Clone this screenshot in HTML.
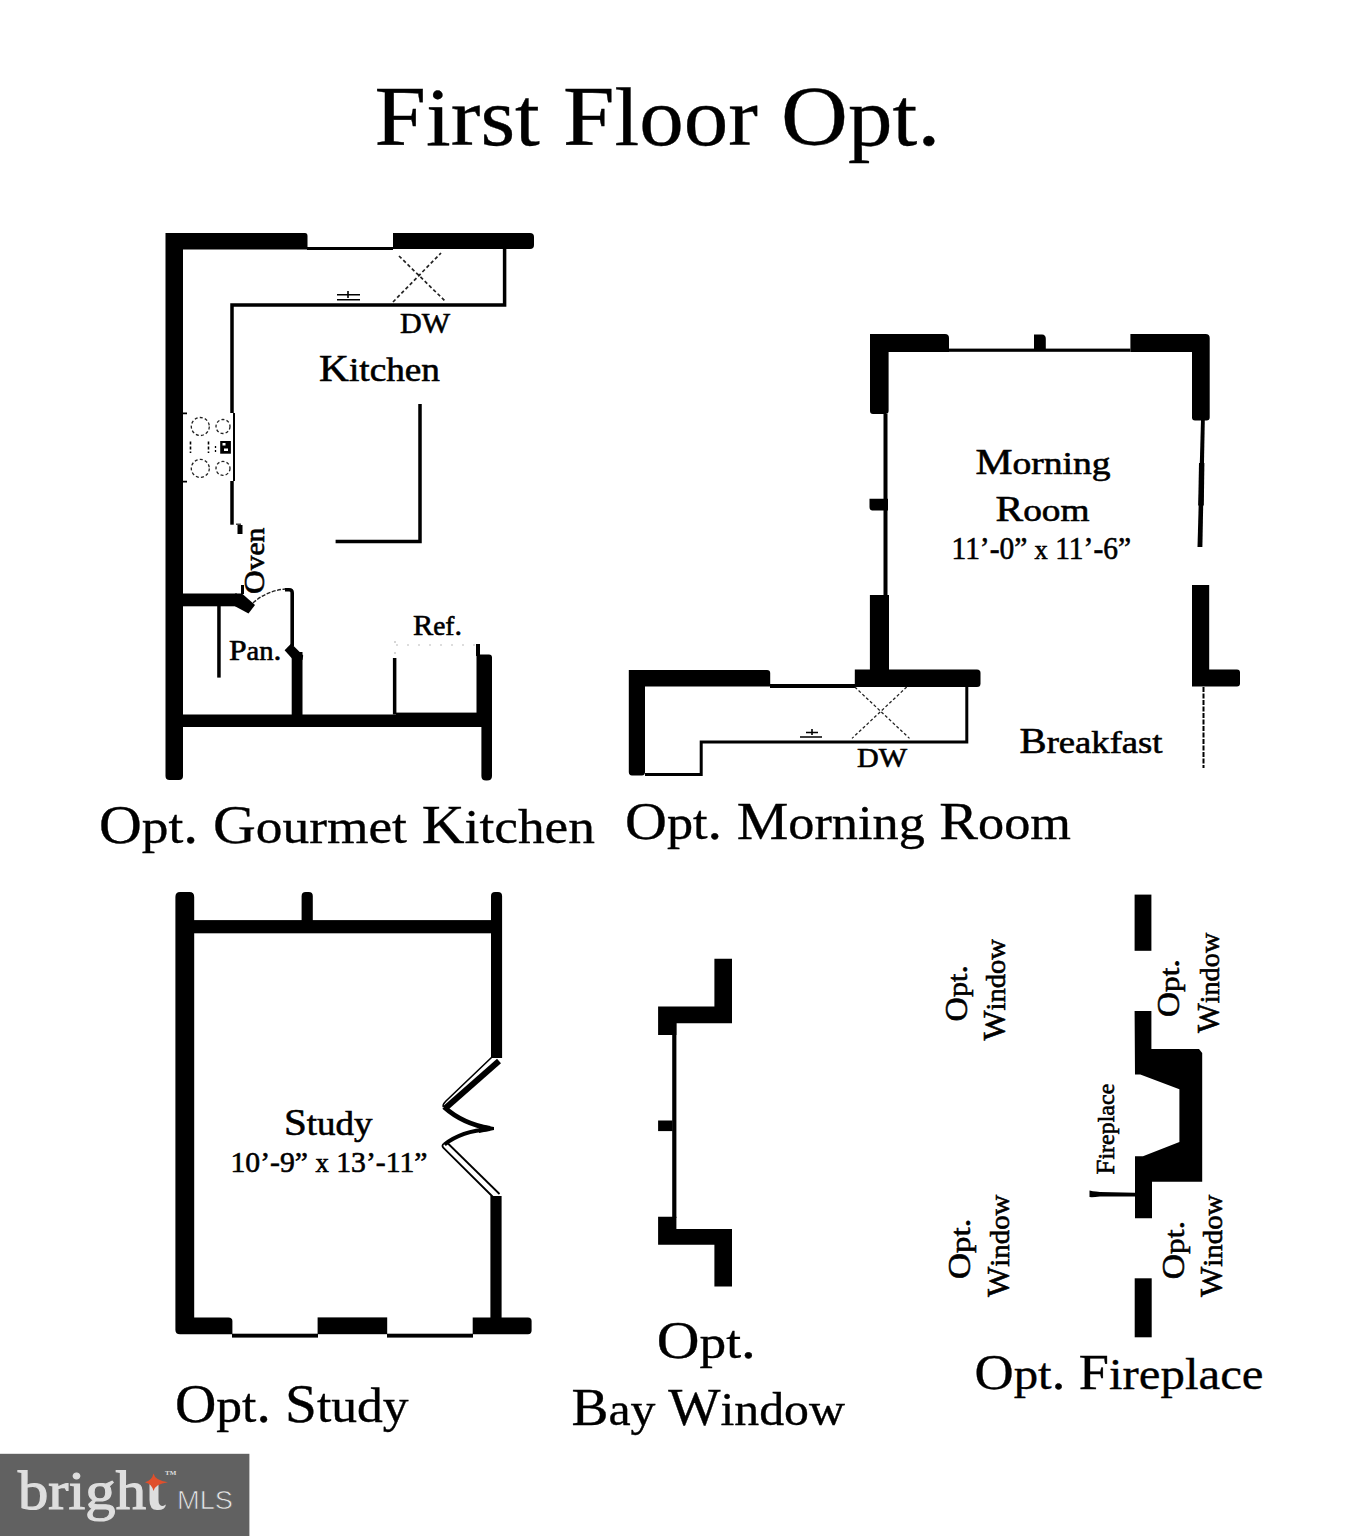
<!DOCTYPE html>
<html><head><meta charset="utf-8">
<style>
html,body{margin:0;padding:0;background:#fff;width:1355px;height:1536px;overflow:hidden}
svg{display:block}
text{font-family:"Liberation Serif",serif;fill:#000}
</style></head><body>
<svg width="1355" height="1536" viewBox="0 0 1355 1536">
<rect width="1355" height="1536" fill="#fff"/>

<!-- TITLE -->
<text x="374.5" y="145" font-size="85" textLength="566" lengthAdjust="spacingAndGlyphs" stroke="#000" stroke-width="0.35">F<tspan font-size="81.6">irst</tspan> F<tspan font-size="81.6">loor</tspan> O<tspan font-size="81.6">pt</tspan>.</text>

<!-- ============ KITCHEN ============ -->
<g id="kitchen">
<path d="M165.5,233 H305 Q307.5,233 307.5,236 V249.5 H183 V776 Q183,780 179,780 H169.5 Q165.5,780 165.5,776 Z" fill="#000"/>
<rect x="307" y="247" width="86" height="3" fill="#000"/>
<path d="M393,233 H530 Q534,233 534,237 V245 Q534,249 530,249 H393 Z" fill="#000"/>
<path d="M232,413 V305 H504.6 V249" fill="none" stroke="#000" stroke-width="3.5"/>
<path d="M232,481 V524.7" fill="none" stroke="#000" stroke-width="3.5"/>
<path d="M234,413 V481" fill="none" stroke="#000" stroke-width="2"/>
<g fill="none" stroke="#222" stroke-width="1.3" stroke-dasharray="3 2.2">
<circle cx="200.3" cy="426.5" r="9"/>
<circle cx="200.3" cy="468.4" r="9"/>
<circle cx="223" cy="426.5" r="7"/>
<circle cx="223" cy="468.4" r="7"/>
<path d="M183,413.3 H187 M183,481.6 H187" stroke="#000" stroke-dasharray="none" stroke-width="1.8"/>
<path d="M393,302 L441,253 M399,256 L445,301" stroke-width="1.7" stroke-dasharray="3.5 2.5"/>
</g>
<rect x="220.2" y="441" width="10.7" height="12.7" fill="#000"/><rect x="222.5" y="443" width="3" height="2.5" fill="#fff"/><rect x="224" y="448.5" width="4" height="2.5" fill="#fff"/>
<path d="M208.5,441.5 V453 M190.5,441.5 V453" stroke="#000" stroke-width="1.6" stroke-dasharray="3 2"/><path d="M215.5,446 V453" stroke="#000" stroke-width="1.3" stroke-dasharray="2 2"/>
<path d="M337,294.7 H360 M337,299.7 H360 M348,291 V298" stroke="#000" stroke-width="1.6"/>
<path d="M420,404 V541.5 H335.6" fill="none" stroke="#000" stroke-width="3.5"/>
<rect x="237.5" y="525" width="5" height="9" fill="#000"/><rect x="236" y="523.5" width="5" height="1.5" fill="#444"/>
<!-- pantry -->
<rect x="183" y="593.5" width="54" height="12.8" fill="#000"/>
<path d="M235,593.5 L242,593.5 L255,605 L248.5,613.5 L235,606.3 Z" fill="#000"/><rect x="241" y="585" width="3" height="9" fill="#000"/>
<rect x="217.2" y="606" width="3.5" height="71.6" fill="#000"/>
<path d="M253,603 Q266,591 285,589" fill="none" stroke="#222" stroke-width="1.4" stroke-dasharray="4 1.5"/>
<path d="M285,588 H289 Q294,588 294,593 V646 H290.4 V592.5 Q290.4,591.5 289,591.5 H285 Z" fill="#000"/>
<path d="M284.6,650.2 L291.2,643.5 L303.2,655.5 L302.5,660 L292,658.6 Z" fill="#000"/>
<rect x="291.7" y="652" width="10.8" height="66" fill="#000"/>
<rect x="183" y="714.5" width="308" height="12.5" fill="#000"/>
<path d="M476.5,654.4 H489 Q492,654.4 492,657.5 V776 Q492,780.5 487,780.5 H486 Q481.4,780.5 481.4,776 V727 H476.5 Z" fill="#000"/>
<rect x="476" y="644" width="4" height="12" fill="#000"/>
<rect x="392.9" y="658" width="3.5" height="56.5" fill="#000"/>
<path d="M396,645 H476 M395,641 V658" fill="none" stroke="#bbb" stroke-width="1.2" stroke-dasharray="2 9"/>
<rect x="396" y="712.6" width="81" height="3" fill="#000"/>
<text x="400" y="333" font-size="30" textLength="50" lengthAdjust="spacingAndGlyphs" stroke="#000" stroke-width="0.6">DW</text>
<text x="319" y="380.7" font-size="38" textLength="121" lengthAdjust="spacingAndGlyphs" stroke="#000" stroke-width="0.6">K<tspan font-size="34.2">itchen</tspan></text>
<text transform="translate(264,594) rotate(-90)" font-size="30" textLength="66.4" lengthAdjust="spacingAndGlyphs" stroke="#000" stroke-width="0.6">O<tspan font-size="27.0">ven</tspan></text>
<text x="229" y="659.8" font-size="30" textLength="52.5" lengthAdjust="spacingAndGlyphs" stroke="#000" stroke-width="0.6">P<tspan font-size="27.0">an</tspan>.</text>
<text x="413" y="635" font-size="30" textLength="49" lengthAdjust="spacingAndGlyphs" stroke="#000" stroke-width="0.6">R<tspan font-size="27.0">ef</tspan>.</text>
<text x="99" y="842.8" font-size="55" textLength="496" lengthAdjust="spacingAndGlyphs" stroke="#000" stroke-width="0.35">O<tspan font-size="49.5">pt</tspan>. G<tspan font-size="49.5">ourmet</tspan> K<tspan font-size="49.5">itchen</tspan></text>
</g>

<g id="morning">
<path d="M870,334 H945 Q949,334 949,338 V352 H888.6 V411 Q888.6,414 885.4,414 H873 Q870,414 870,411 Z" fill="#000"/>
<rect x="949" y="348.6" width="181.4" height="3.2" fill="#000"/>
<path d="M1034,334.5 H1042 Q1045.8,334.5 1045.8,339 V349 H1034 Z" fill="#000"/>
<path d="M1130.4,334 H1205.6 Q1209.7,334 1209.7,338 V417.4 Q1209.7,420.4 1206.6,420.4 H1195 Q1192,420.4 1192,417.4 V352 H1130.4 Z" fill="#000"/>
<rect x="883.5" y="414" width="4" height="182" fill="#000"/>
<path d="M869.5,498.7 H888 V510.4 H872 Q869.5,510.4 869.5,507 Z" fill="#000"/>
<rect x="869.9" y="595" width="19.1" height="76" fill="#000"/>
<path d="M1201,420 H1204.8 L1202.4,547 H1197.5 Z" fill="#000"/>
<path d="M1199,463 H1204.4 L1203.8,505.5 H1198.2 Z" fill="#000"/>
<path d="M1192,585 H1209.2 V669.4 H1237 Q1240,669.4 1240,672.4 V683.6 Q1240,686.6 1237,686.6 H1192 Z" fill="#000"/>
<path d="M1203.5,687 V768" stroke="#000" stroke-width="2" stroke-dasharray="5 1.5"/>
<path d="M628.8,670 H767 Q770.2,670 770.2,673 V686.5 H645 V772 Q645,775.4 642,775.4 H632 Q628.8,775.4 628.8,772 Z" fill="#000"/>
<rect x="770" y="684" width="85" height="4" fill="#000"/>
<path d="M854.8,669.5 H977 Q980.5,669.5 980.5,673 V683.5 Q980.5,687 977,687 H854.8 Z" fill="#000"/>
<path d="M645,774.6 H701.2 V742 H966.8 V686" fill="none" stroke="#000" stroke-width="3"/>
<g fill="none" stroke="#222" stroke-width="1.3" stroke-dasharray="3 2.2">
<path d="M854.8,687 L909.5,738.4 M906.7,687 L852,738.4"/>
</g>
<path d="M800,737 H822 M806,732.5 H818 M812,729 V735" stroke="#000" stroke-width="1.6"/>
<text x="975.5" y="474" font-size="36" textLength="135" lengthAdjust="spacingAndGlyphs" stroke="#000" stroke-width="0.6">M<tspan font-size="32.4">orning</tspan></text>
<text x="995.5" y="520.7" font-size="36" textLength="94" lengthAdjust="spacingAndGlyphs" stroke="#000" stroke-width="0.6">R<tspan font-size="32.4">oom</tspan></text>
<text x="951.5" y="558.7" font-size="31" textLength="179.5" lengthAdjust="spacingAndGlyphs" stroke="#000" stroke-width="0.6">11’-0” <tspan font-size="27.9">x</tspan> 11’-6”</text>
<text x="857" y="767" font-size="27" textLength="50" lengthAdjust="spacingAndGlyphs" stroke="#000" stroke-width="0.6">DW</text>
<text x="1019.5" y="752.9" font-size="36" textLength="143" lengthAdjust="spacingAndGlyphs" stroke="#000" stroke-width="0.6">B<tspan font-size="32.4">reakfast</tspan></text>
<text x="625" y="838.9" font-size="53" textLength="446" lengthAdjust="spacingAndGlyphs" stroke="#000" stroke-width="0.35">O<tspan font-size="47.7">pt</tspan>. M<tspan font-size="47.7">orning</tspan> R<tspan font-size="47.7">oom</tspan></text>
</g>

<g id="study">
<path d="M175.4,897 Q175.4,892 180,892 H189.6 Q194.2,892 194.2,897 V1317.4 H228.4 Q232.4,1317.4 232.4,1321 V1334.2 H180 Q175.4,1334.2 175.4,1330 Z" fill="#000"/>
<rect x="194" y="920.1" width="298" height="13.2" fill="#000"/>
<path d="M301.6,896 Q301.6,892 305.6,892 H308.8 Q312.8,892 312.8,896 V921 H301.6 Z" fill="#000"/>
<path d="M491,896 Q491,892 495,892 H498 Q502.1,892 502.1,896 V1058 H491 Z" fill="#000"/>
<rect x="317.6" y="1317.4" width="69.6" height="16.8" fill="#000"/>
<path d="M490.4,1196 H501.6 V1317.4 H528 Q531.6,1317.4 531.6,1321 V1330.6 Q531.6,1334.2 528,1334.2 H472.7 V1317.4 H490.4 Z" fill="#000"/>
<rect x="232" y="1333.7" width="86" height="3.9" fill="#000"/>
<rect x="387" y="1333.7" width="86" height="3.9" fill="#000"/>
<!-- bifold doors -->
<path d="M499,1061 L445,1108.5" stroke="#000" stroke-width="6" fill="none"/>
<path d="M491.5,1057.5 L446,1101 Q442,1105 443.5,1107" stroke="#000" stroke-width="1.6" fill="none"/>
<path d="M444,1107 C454,1116 467,1124.5 490,1128.4" stroke="#000" stroke-width="4.8" fill="none"/>
<path d="M479,1124.5 L494,1127 L494,1130 L479,1133 Z" fill="#000"/>
<path d="M490,1129 C470,1130.5 455,1136 444.5,1144.5" stroke="#000" stroke-width="4" fill="none"/>
<path d="M493.5,1197.5 L443.5,1148 Q441,1145 444.5,1143.5" stroke="#000" stroke-width="1.8" fill="none"/>
<path d="M448,1143.5 L499.5,1194" stroke="#000" stroke-width="1.8" fill="none"/>
<text x="284" y="1134.6" font-size="38" textLength="88.5" lengthAdjust="spacingAndGlyphs" stroke="#000" stroke-width="0.6">S<tspan font-size="34.2">tudy</tspan></text>
<text x="230.5" y="1172" font-size="30" textLength="197" lengthAdjust="spacingAndGlyphs" stroke="#000" stroke-width="0.6">10’-9” <tspan font-size="27.0">x</tspan> 13’-11”</text>
<text x="175" y="1421.7" font-size="54" textLength="233.5" lengthAdjust="spacingAndGlyphs" stroke="#000" stroke-width="0.35">O<tspan font-size="48.6">pt</tspan>. S<tspan font-size="48.6">tudy</tspan></text>
</g>
<g id="bay">
<path d="M714.4,958.8 H732 V1023.2 H676.4 V1035 H658.1 V1006.4 H714.4 Z" fill="#000"/>
<rect x="672.2" y="1023" width="4.2" height="195" fill="#000"/>
<rect x="658.1" y="1120.5" width="14.5" height="10.6" fill="#000"/>
<path d="M658.1,1216.7 H676.4 V1228.9 H732 V1286.5 H714.4 V1244.8 H658.1 Z" fill="#000"/>
<text x="656.8" y="1358.3" font-size="52" textLength="99" lengthAdjust="spacingAndGlyphs" stroke="#000" stroke-width="0.35">O<tspan font-size="46.8">pt</tspan>.</text>
<text x="571.5" y="1425.1" font-size="52" textLength="273.5" lengthAdjust="spacingAndGlyphs" stroke="#000" stroke-width="0.35">B<tspan font-size="46.8">ay</tspan> W<tspan font-size="46.8">indow</tspan></text>
</g>
<g id="fireplace">
<rect x="1134.6" y="894.6" width="16.8" height="56.2" fill="#000"/>
<path d="M1134.6,1011 H1151.4 V1049 H1199 L1202.2,1053 V1181.7 H1152 V1218.3 H1135 V1156.3 H1143 L1179.4,1142 V1089.2 L1140.3,1074.5 H1135 Z" fill="#000"/>
<rect x="1134.7" y="1278.3" width="17" height="59" fill="#000"/>
<path d="M1089.5,1190.5 Q1091,1191 1100,1192 L1135,1192.8 V1196.5 L1100,1196.5 Q1092,1197.5 1089.5,1197 Z" fill="#000"/>
<g font-size="31" stroke="#000" stroke-width="0.6">
<text transform="translate(967.3,1021.5) rotate(-90)" textLength="56.5" lengthAdjust="spacingAndGlyphs">O<tspan font-size="27.9">pt</tspan>.</text>
<text transform="translate(1005.3,1040.6) rotate(-90)" textLength="101.6" lengthAdjust="spacingAndGlyphs">W<tspan font-size="27.9">indow</tspan></text>
<text transform="translate(1179.3,1017) rotate(-90)" textLength="58" lengthAdjust="spacingAndGlyphs">O<tspan font-size="27.9">pt</tspan>.</text>
<text transform="translate(1218.6,1033) rotate(-90)" textLength="100.3" lengthAdjust="spacingAndGlyphs">W<tspan font-size="27.9">indow</tspan></text>
<text transform="translate(970.2,1279.3) rotate(-90)" textLength="61" lengthAdjust="spacingAndGlyphs">O<tspan font-size="27.9">pt</tspan>.</text>
<text transform="translate(1009,1296.9) rotate(-90)" textLength="102.3" lengthAdjust="spacingAndGlyphs">W<tspan font-size="27.9">indow</tspan></text>
<text transform="translate(1184,1279.3) rotate(-90)" textLength="58.5" lengthAdjust="spacingAndGlyphs">O<tspan font-size="27.9">pt</tspan>.</text>
<text transform="translate(1221.5,1296.9) rotate(-90)" textLength="102.3" lengthAdjust="spacingAndGlyphs">W<tspan font-size="27.9">indow</tspan></text>
</g>
<text transform="translate(1113.8,1174.4) rotate(-90)" font-size="25" textLength="90.7" lengthAdjust="spacingAndGlyphs" stroke="#000" stroke-width="0.6">F<tspan font-size="22.5">ireplace</tspan></text>
<text x="974.5" y="1388.6" font-size="50" textLength="289" lengthAdjust="spacingAndGlyphs" stroke="#000" stroke-width="0.35">O<tspan font-size="45.0">pt</tspan>. F<tspan font-size="45.0">ireplace</tspan></text>
</g>

<g id="logo">
<rect x="0" y="1453.8" width="249.4" height="82.2" fill="#616161"/>
<text x="18" y="1509" font-size="55" style="fill:#dedede;stroke:#dedede;stroke-width:1.2" textLength="128" lengthAdjust="spacingAndGlyphs">brigh</text>
<path d="M149.5,1484 H158.5 V1500 Q158.5,1506 163,1506 L166,1504.5 Q165,1510 158,1510 H157 Q149.5,1510 149.5,1500 Z" fill="#dedede"/>
<path d="M153.5,1473.5 Q155,1480.5 168,1482.2 Q155,1484 153.5,1491 Q152,1484 145,1482.2 Q152,1480.5 153.5,1473.5 Z" fill="#e0502c"/>
<text x="165" y="1475" font-size="7" font-weight="bold" style="fill:#dedede">TM</text>
<text x="177" y="1508.7" font-size="26" style="font-family:'Liberation Sans',sans-serif;fill:#e6e6e6;stroke:#616161;stroke-width:0.7" textLength="56" lengthAdjust="spacingAndGlyphs">MLS</text>
</g>

</svg>
</body></html>
